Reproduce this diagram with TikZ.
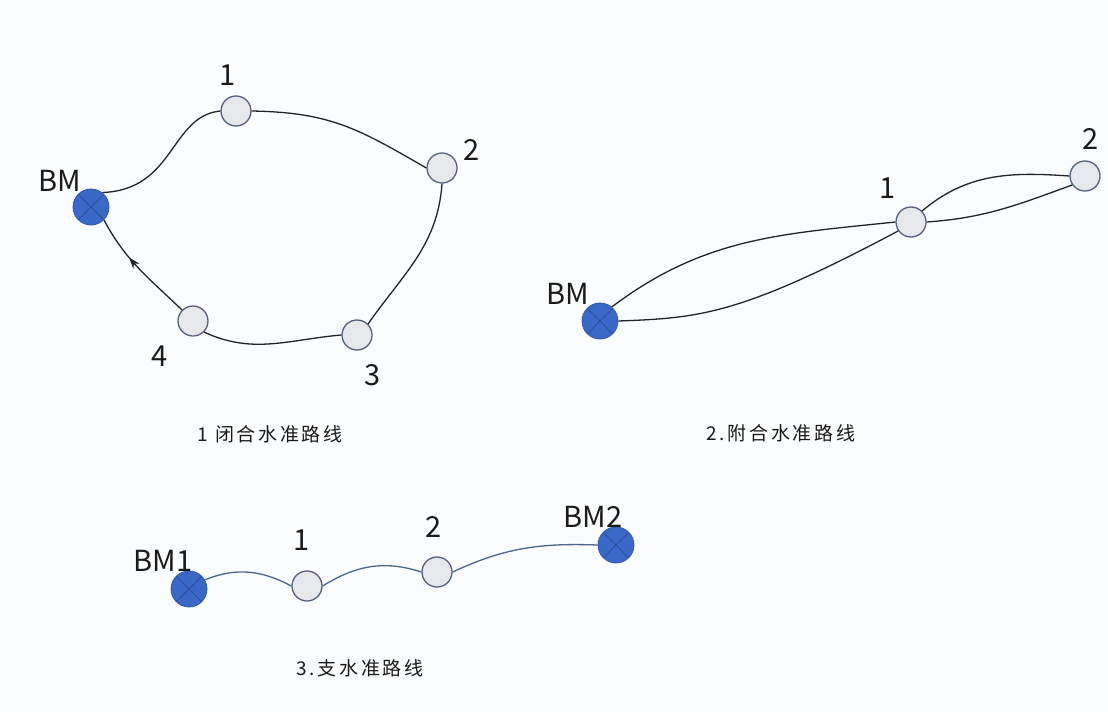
\documentclass[tikz,border=0pt]{standalone}
\usepackage{fontspec}
\newfontfamily\cjk{Noto Sans CJK SC}
\newfontfamily\capfont{Noto Sans CJK SC}[LetterSpace=14]
\usetikzlibrary{arrows.meta,decorations.markings}
\definecolor{bgc}{HTML}{FBFCFD}
\definecolor{bmfill}{HTML}{3A68C6}
\definecolor{bmcross}{HTML}{2A4E9E}
\definecolor{ptfill}{HTML}{E7E8EB}
\definecolor{ptline}{HTML}{56627C}
\definecolor{edgedark}{HTML}{23232C}
\definecolor{edgeblue}{HTML}{4A6688}
\definecolor{txt}{HTML}{1A1A1A}
\tikzset{
  bm/.style={circle,fill=bmfill,draw=bmfill!85!black,line width=0.8pt,minimum size=36pt,inner sep=0pt,
    path picture={\draw[bmcross,line width=0.9pt] (path picture bounding box.north west)--(path picture bounding box.south east)
      (path picture bounding box.north east)--(path picture bounding box.south west);}},
  pt/.style={circle,fill=ptfill,draw=ptline,line width=1.3pt,minimum size=30pt,inner sep=0pt},
  lbl/.style={font=\cjk\fontsize{29}{32}\selectfont,text=txt,inner sep=0pt},
  captext/.style={font=\capfont\fontsize{19}{21}\selectfont,text=txt,inner sep=0pt},
  ed/.style={draw=edgedark,line width=1.3pt},
  eb/.style={draw=edgeblue,line width=1.3pt},
  midarrow/.style={postaction={decorate},decoration={markings,mark=at position 0.62 with {\arrow{Stealth[length=11pt,width=8pt]}}}}
}
\begin{document}
\begin{tikzpicture}[x=1pt,y=-1pt]
\fill[bgc] (0,0) rectangle (1108,712);
\useasboundingbox (0,0) rectangle (1108,712);
% ---------- diagram 1
\node[bm] (a0) at (91,207) {};
\node[pt] (a1) at (236,111) {};
\node[pt] (a2) at (442,168) {};
\node[pt] (a3) at (357,335) {};
\node[pt] (a4) at (193,321) {};
\draw[ed] (a0.52) .. controls (175,190) and (170,116) .. (a1.west);
\draw[ed] (a1.east) to[out=-1,in=150,looseness=1.1] (a2.west);
\draw[ed] (a2.south) to[out=-94,in=55] (a3.north east);
\draw[ed] (a3.west) to[out=185,in=-25] (a4.south east);
\draw[ed,midarrow] (a4.north west) to[out=136,in=-62] (a0.south east);
\node[lbl] (la0) at (60,181) {BM};
\node[lbl] (la1) at (228,75) {1};
\node[lbl] (la2) at (472,150) {2};
\node[lbl] (la3) at (373,375) {3};
\node[lbl] (la4) at (160,356) {4};
\node[captext] (ca) at (270,434) {1 闭合水准路线};
% ---------- diagram 2
\node[bm] (b0) at (600,321) {};
\node[pt] (b1) at (911,222) {};
\node[pt] (b2) at (1085,176) {};
\draw[ed] (b0.50) to[out=37,in=186] (b1.west);
\draw[ed] (b0.east) .. controls (700,318) and (740,315) .. (b1.215);
\draw[ed] (b1.45) to[out=40,in=176] (b2.west);
\draw[ed] (b1.east) to[out=4,in=200] (b2.215);
\node[lbl] (lb0) at (568,294) {BM};
\node[lbl] (lb1) at (888,188) {1};
\node[lbl] (lb2) at (1091,139) {2};
\node[captext] (cb) at (781,433) {2.附合水准路线};
% ---------- diagram 3
\node[bm] (c0) at (189,589) {};
\node[pt] (c1) at (307,586) {};
\node[pt] (c2) at (437,572) {};
\node[bm] (c3) at (616,545) {};
\draw[eb] (c0.30) to[out=22,in=152] (c1.west);
\draw[eb] (c1.east) to[out=32,in=162] (c2.west);
\draw[eb] (c2.east) to[out=25,in=178] (c3.west);
\node[lbl] (lc0) at (163,561) {BM1};
\node[lbl] (lc1) at (302,540) {1};
\node[lbl] (lc2) at (434,527) {2};
\node[lbl] (lc3) at (593,517) {BM2};
\node[captext] (cc) at (360,668) {3.支水准路线};
\end{tikzpicture}
\end{document}
